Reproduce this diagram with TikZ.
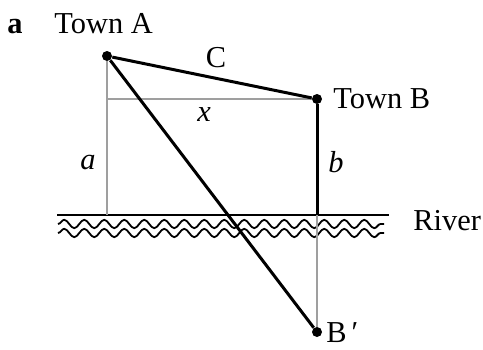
\documentclass[tikz,border=0pt]{standalone}
\usepackage{fontspec}
\setmainfont{Liberation Serif}
\usetikzlibrary{decorations.pathmorphing}

\begin{document}
\begin{tikzpicture}[
    x=0.5pt, y=-0.5pt,
    lbl/.style={inner sep=0pt, font=\fontsize{15.2}{17}\selectfont},
    road/.style={line width=1.5pt, black},
    aux/.style={line width=1pt, gray!75},
    water/.style={line width=0.9pt, decorate, decoration={snake, segment length=10pt, amplitude=2.1pt}},
    town/.style={circle, fill=black, inner sep=0pt, minimum size=5pt}
]
  \useasboundingbox (0,0) rectangle (483,349);

  % points
  \node[town] (A) at (107,56) {};
  \node[town] (B) at (317,99) {};
  \node[town] (Bp) at (317,332) {};
  \coordinate (Ax) at (107,99);
  \coordinate (Ar) at (107,215);
  \coordinate (Br) at (317,215);
  \coordinate (rl) at (57,215);
  \coordinate (rr) at (389,215);

  % river bank
  \draw[line width=1.3pt] (rl) -- (rr);
  \draw[water] (58,224) -- (384,224);
  \draw[water] (58,233) -- (384,233);

  % construction lines
  \draw[aux] (Ax) -- (B);
  \draw[aux] (A) -- (Ar);
  \draw[aux] (Br) -- (Bp);

  % paths
  \draw[road] (A) -- (B);
  \draw[road] (B) -- (Br);
  \draw[road] (A) -- (Bp);

  % labels
  \node[lbl, font=\fontsize{15.2}{17}\selectfont\bfseries, anchor=base] (part) at (15,33) {a};
  \node[lbl, anchor=base west] (tA) at (54,33) {Town A};
  \node[lbl, anchor=west] (tB) at (333,99) {Town B};
  \node[lbl, anchor=base west] (tBp) at (326,342) {B\,′};
  \node[lbl] (lC) at (216,58) {C};
  \node[lbl] (lx) at (204,115) {\textit{x}};
  \node[lbl] (la) at (88,162) {\textit{a}};
  \node[lbl] (lb) at (336,162) {\textit{b}};
  \node[lbl, anchor=west] (lriv) at (413,221) {River};
\end{tikzpicture}
\end{document}
